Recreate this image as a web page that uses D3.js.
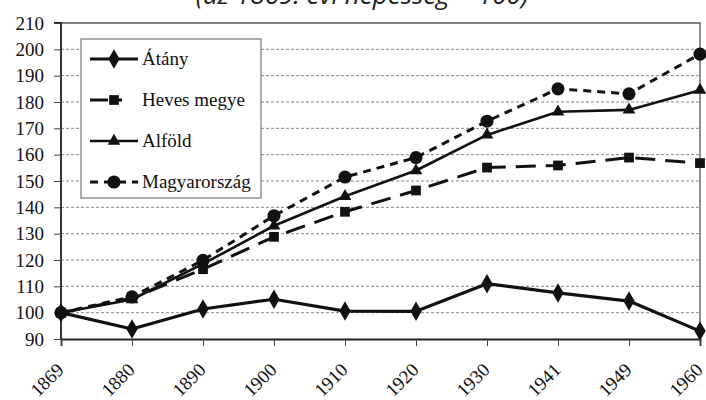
<!DOCTYPE html>
<html>
<head>
<meta charset="utf-8">
<script src="https://cdn.jsdelivr.net/npm/d3@7"></script>
<style>
  body { margin: 0; background: #fff; }
  svg { display: block; }
</style>
</head>
<body>
<div id="chart"></div>
<script>
// years on the x axis (categorical)
const years = ['1869', '1880', '1890', '1900', '1910', '1920', '1930', '1941', '1949', '1960'];
const yTicks = [90, 100, 110, 120, 130, 140, 150, 160, 170, 180, 190, 200, 210];

// population index, 1869 = 100
const atany = [100, 93.8, 101.4, 105.1, 100.6, 100.5, 111, 107.5, 104.4, 93];
const heves = [100, 105.5, 116.5, 128.8, 138.3, 146.4, 155.1, 155.9, 158.9, 156.8];
const alfold = [100, 105, 118.5, 133, 144.2, 154, 167.5, 176.3, 177, 184.5];
const magyar = [100, 106, 119.9, 136.8, 151.5, 158.9, 172.7, 185, 183.1, 198.2];

const seriesNames = ['Átány', 'Heves megye', 'Alföld', 'Magyarország'];

const width = 706, height = 400;
const margin = {top: 23, right: 4, bottom: 61, left: 61};
const ink = '#111';
const serif = "'Liberation Serif', 'Times New Roman', serif";

const svg = d3.select('#chart')
    .append('svg')
    .attr('width', width)
    .attr('height', height);

const x = d3.scalePoint()
    .domain(years)
    .range([margin.left, width - margin.right - 2]);

const y = d3.scaleLinear()
    .domain([90, 210])
    .range([height - margin.bottom, margin.top]);

// title, mostly cut off at the top of the picture
svg.append('text')
    .attr('x', 362)
    .attr('y', 4)
    .attr('text-anchor', 'middle')
    .style('font-family', "'Open Sans', 'Noto Sans', sans-serif")
    .style('font-style', 'italic')
    .style('font-size', '26px')
    .style('fill', '#222')
    .text('(az 1869. évi népesség = 100)');

// gridlines
svg.append('g')
    .selectAll('line')
    .data(yTicks.filter(d => d > 90 && d < 210))
    .enter()
    .append('line')
        .attr('x1', margin.left)
        .attr('x2', width - margin.right - 2)
        .attr('y1', d => y(d))
        .attr('y2', d => y(d))
        .style('stroke', '#8a8a8a')
        .style('stroke-width', 1)
        .style('stroke-dasharray', '3,2');

// plot frame top and right
svg.append('path')
    .attr('d', `M${margin.left},${y(210)}H${x('1960')}V${y(90)}`)
    .style('fill', 'none')
    .style('stroke', '#555')
    .style('stroke-width', 1.3);

// y axis
const yAxis = svg.append('g')
    .attr('transform', `translate(${margin.left},0)`)
    .call(d3.axisLeft(y).tickValues(yTicks).tickSize(7).tickPadding(10));

// x axis
const xAxis = svg.append('g')
    .attr('transform', `translate(0,${y(90)})`)
    .call(d3.axisBottom(x).tickSize(7).tickFormat(''));

[yAxis, xAxis].forEach(ax => {
    ax.select('.domain').style('stroke', '#222').style('stroke-width', 1.8);
    ax.selectAll('.tick line').style('stroke', '#444').style('stroke-width', 1);
});
yAxis.select('.domain').attr('d', `M-7,${y(210)}H0V${y(90)}`);
yAxis.selectAll('.tick text')
    .style('font-family', serif)
    .style('font-size', '19px')
    .style('fill', ink);

// rotated year labels
svg.append('g')
    .selectAll('text')
    .data(years)
    .enter()
    .append('text')
        .attr('transform', d => `translate(${x(d) + 4},${y(90) + 32}) rotate(-45)`)
        .attr('text-anchor', 'end')
        .style('font-family', serif)
        .style('font-size', '19px')
        .style('fill', ink)
        .text(d => d);

const series = [
    {name: seriesNames[0], values: atany, dash: null, width: 3.2, marker: d3.symbolDiamond, size: 110},
    {name: seriesNames[1], values: heves, dash: '20,10', width: 3, marker: d3.symbolSquare, size: 95},
    {name: seriesNames[2], values: alfold, dash: null, width: 2.6, marker: d3.symbolTriangle, size: 70},
    {name: seriesNames[3], values: magyar, dash: '8,6', width: 3, marker: d3.symbolCircle, size: 135}
];

const line = d3.line()
    .x((d, i) => x(years[i]))
    .y(d => y(d));

// draw back to front so Átány sits on top like the original
series.slice().reverse().forEach(s => {
    svg.append('path')
        .datum(s.values)
        .attr('d', line)
        .style('fill', 'none')
        .style('stroke', ink)
        .style('stroke-width', s.width)
        .style('stroke-linejoin', 'round')
        .style('stroke-dasharray', s.dash);

    svg.append('g')
        .selectAll('path')
        .data(s.values)
        .enter()
        .append('path')
            .attr('transform', (d, i) => `translate(${x(years[i])},${y(d)})`)
            .attr('d', d3.symbol().type(s.marker).size(s.size))
            .style('fill', ink);
});

// legend
const legend = svg.append('g');
legend.append('rect')
    .attr('x', 81)
    .attr('y', 39)
    .attr('width', 180)
    .attr('height', 159)
    .style('fill', '#fff')
    .style('stroke', '#777')
    .style('stroke-width', 1.2);

const rowY = d3.scalePoint()
    .domain(seriesNames)
    .range([59, 182]);

series.forEach(s => {
    const g = legend.append('g')
        .attr('transform', `translate(0,${rowY(s.name)})`);
    g.append('line')
        .attr('x1', 90)
        .attr('x2', 138)
        .style('stroke', ink)
        .style('stroke-width', s.width)
        .style('stroke-dasharray', s.name === 'Heves megye' ? '18,8,6' : s.dash);
    g.append('path')
        .attr('transform', 'translate(114,0)')
        .attr('d', d3.symbol().type(s.marker).size(s.size))
        .style('fill', ink);
    g.append('text')
        .attr('x', 142)
        .attr('dy', '0.33em')
        .style('font-family', serif)
        .style('font-size', '19px')
        .style('fill', ink)
        .text(s.name);
});
</script>
</body>
</html>
